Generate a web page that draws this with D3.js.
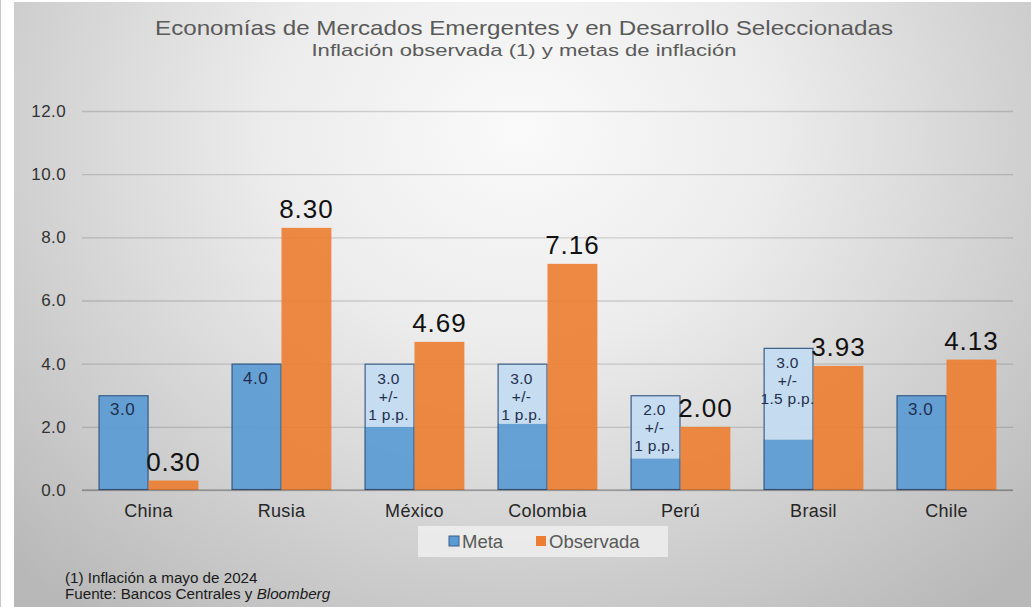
<!DOCTYPE html>
<html><head><meta charset="utf-8">
<script src="https://cdn.jsdelivr.net/npm/d3@7"></script>
<style>html,body{margin:0;padding:0;background:#fff;}svg{display:block;font-family:"Liberation Sans",Arial,sans-serif;}</style>
</head><body>
<script>
const categories = ["China","Rusia","México","Colombia","Perú","Brasil","Chile"];
const metaLower = [3.0, 4.0, 2.0, 2.1, 1.0, 1.6, 3.0];
const metaBand  = [0, 0, 2.0, 1.9, 2.0, 2.9, 0];
const observed  = [0.30, 8.30, 4.69, 7.16, 2.00, 3.93, 4.13];
const metaLabels = [["3.0"],["4.0"],["3.0","+/-","1 p.p."],["3.0","+/-","1 p.p."],["2.0","+/-","1 p.p."],["3.0","+/-","1.5 p.p."],["3.0"]];
const yTicks = [0, 2, 4, 6, 8, 10, 12];
const seriesNames = ["Meta","Observada"];
const title = "Economías de Mercados Emergentes y en Desarrollo Seleccionadas";
const subtitle = "Inflación observada (1) y metas de inflación";
const notes = ["(1) Inflación a mayo de 2024", "Fuente: Bancos Centrales y "];

const W = 1031, H = 607;
const svg = d3.select("body").append("svg").attr("width", W).attr("height", H);
const defs = svg.append("defs");
const g1 = defs.append("radialGradient").attr("id","bg")
  .attr("gradientUnits","userSpaceOnUse").attr("cx",520).attr("cy",130).attr("r",720)
  .attr("gradientTransform","translate(520,130) scale(1,0.85) translate(-520,-130)");
g1.append("stop").attr("offset","0%").attr("stop-color","#fafafa");
g1.append("stop").attr("offset","35%").attr("stop-color","#ececec");
g1.append("stop").attr("offset","100%").attr("stop-color","#b8b8b8");

svg.append("rect").attr("x",0).attr("y",0).attr("width",1).attr("height",H).attr("fill","#c8c8c8");
svg.append("rect").attr("x",14).attr("y",2).attr("width",W-14).attr("height",H-2).attr("fill","url(#bg)");

const y = d3.scaleLinear().domain([0,12]).range([490,111]);
const x = d3.scaleBand().domain(categories).range([82,1013]).paddingInner(0.25).paddingOuter(0.125);
const xs = d3.scaleBand().domain(seriesNames).range([0, x.bandwidth()]);

// gridlines
const yAxis = d3.axisLeft(y).tickValues(yTicks).tickFormat(d3.format(".1f")).tickSize(-(1013-82)).tickPadding(16);
const ax = svg.append("g").attr("transform","translate(82,0)").call(yAxis);
ax.select(".domain").remove();
ax.selectAll(".tick line").attr("stroke","rgba(0,0,0,0.15)").attr("stroke-width",1.3);
ax.selectAll(".tick text").attr("font-size",17).attr("fill","#333").attr("letter-spacing",0.4).attr("font-family","Liberation Sans, Arial, sans-serif");

const data = categories.map((c,i)=>({c, lo: metaLower[i], band: metaBand[i], obs: observed[i], lab: metaLabels[i]}));

const grp = svg.append("g").selectAll("g").data(data).join("g")
  .attr("transform", d=>`translate(${x(d.c)},0)`);

grp.append("rect").attr("x", xs("Meta")).attr("width", xs.bandwidth())
  .attr("y", d=>y(d.lo)).attr("height", d=>y(0)-y(d.lo))
  .attr("fill","#5b9bd5").attr("opacity",0.92);
grp.filter(d=>d.band>0).append("rect").attr("x", xs("Meta")).attr("width", xs.bandwidth())
  .attr("y", d=>y(d.lo+d.band)).attr("height", d=>y(d.lo)-y(d.lo+d.band))
  .attr("fill","#c3dbf1").attr("opacity",0.95);
grp.append("rect").attr("x", xs("Meta")+0.5).attr("width", xs.bandwidth()-1)
  .attr("y", d=>y(d.lo+d.band)+0.5).attr("height", d=>y(0)-y(d.lo+d.band)-1)
  .attr("fill","none").attr("stroke","#3f5f86").attr("stroke-width",1.2);
grp.append("rect").attr("x", xs("Observada")).attr("width", xs.bandwidth())
  .attr("y", d=>y(d.obs)).attr("height", d=>y(0)-y(d.obs))
  .attr("fill","#ed7d31").attr("opacity",0.9);

grp.each(function(d){
  const gg = d3.select(this);
  const cx = xs("Meta") + xs.bandwidth()/2 - 1;
  const top = y(d.lo + d.band);
  if (d.lab.length === 1) {
    gg.append("text").attr("x", cx).attr("y", top+20).attr("text-anchor","middle")
      .attr("font-size",17).attr("letter-spacing",0.5).attr("fill","#1f2f4d").text(d.lab[0]);
  } else {
    d.lab.forEach((t,k)=>{
      gg.append("text").attr("x", cx).attr("y", top+20+k*18).attr("text-anchor","middle")
        .attr("font-size",15.5).attr("letter-spacing",0.3).attr("fill","#1f2f4d").text(t);
    });
  }
});
grp.append("text").attr("x", xs("Observada")+xs.bandwidth()/2).attr("y", d=>y(d.obs)-10)
  .attr("text-anchor","middle").attr("font-size",26).attr("letter-spacing",1).attr("fill","#111").text(d=>d.obs.toFixed(2));

svg.append("line").attr("x1",82).attr("x2",1013).attr("y1",y(0)).attr("y2",y(0)).attr("stroke","rgba(0,0,0,0.22)").attr("stroke-width",1.3);

const xAxis = d3.axisBottom(x).tickSize(0).tickPadding(14);
const xa = svg.append("g").attr("transform",`translate(0,${y(0)})`).call(xAxis);
xa.select(".domain").remove();
xa.selectAll("text").attr("font-size",18).attr("letter-spacing",0.3).attr("fill","#262626").attr("font-family","Liberation Sans, Arial, sans-serif");

svg.append("text").attr("x",524).attr("y",35).attr("text-anchor","middle").attr("font-size",21)
  .attr("fill","#5a5a5a").attr("textLength",738).attr("lengthAdjust","spacingAndGlyphs").text(title);
svg.append("text").attr("x",524).attr("y",56).attr("text-anchor","middle").attr("font-size",17)
  .attr("fill","#5a5a5a").attr("textLength",425).attr("lengthAdjust","spacingAndGlyphs").text(subtitle);

const lg = svg.append("g");
lg.append("rect").attr("x",418).attr("y",526).attr("width",250).attr("height",31).attr("fill","#eeeeee").attr("opacity",0.85);
const colors = {"Meta":"#5b9bd5","Observada":"#ed7d31"};
const legendX = {"Meta":449,"Observada":536};
seriesNames.forEach(s=>{
  lg.append("rect").attr("x",legendX[s]).attr("y",536).attr("width",10).attr("height",10)
    .attr("fill",colors[s]).attr("stroke", s==="Meta"?"#3f5f86":"none").attr("stroke-width",1);
  lg.append("text").attr("x",legendX[s]+13).attr("y",548).attr("font-size",18.5).attr("fill","#595959").text(s);
});

svg.append("text").attr("x",65).attr("y",583).attr("font-size",15.2).attr("fill","#1a1a1a").text(notes[0]);
const f2 = svg.append("text").attr("x",65).attr("y",599).attr("font-size",15.2).attr("fill","#1a1a1a");
f2.append("tspan").text(notes[1]);
f2.append("tspan").attr("font-style","italic").text("Bloomberg");
</script>
</body></html>
